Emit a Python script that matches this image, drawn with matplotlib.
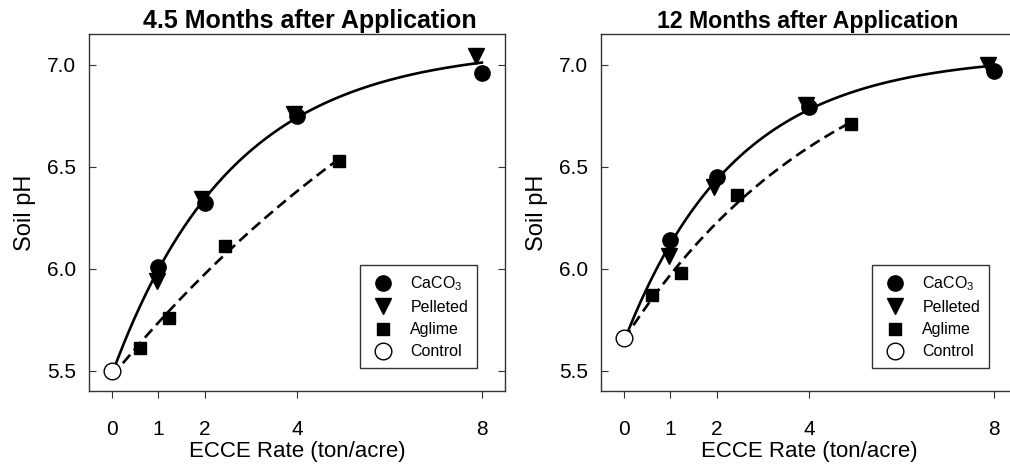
import numpy as np
import matplotlib
matplotlib.use("Agg")
import matplotlib.pyplot as plt

plt.rcParams['font.family'] = ['Liberation Sans', 'DejaVu Sans']
plt.rcParams['mathtext.fontset'] = 'custom'
plt.rcParams['mathtext.rm'] = 'Liberation Sans'
plt.rcParams['mathtext.it'] = 'Liberation Sans:italic'

# values (ECCE rate in ton/acre, soil pH)
titles = ["4.5 Months after Application", "12 Months after Application"]
xticks = [0, 1, 2, 4, 8]
yticks = [5.5, 6.0, 6.5, 7.0]

control_x = [0]
control_45 = [5.50]
control_12 = [5.66]

caco3_x = [1, 2, 4, 8]
caco3_45 = [6.01, 6.32, 6.75, 6.96]
caco3_12 = [6.14, 6.45, 6.79, 6.97]

pellet_x = [0.97, 1.95, 3.94, 7.88]
pellet_45 = [5.94, 6.34, 6.76, 7.04]
pellet_12 = [6.06, 6.40, 6.80, 7.00]

aglime_x = [0.61, 1.23, 2.45, 4.91]
aglime_45 = [5.61, 5.76, 6.11, 6.53]
aglime_12 = [5.87, 5.98, 6.36, 6.71]


def fit_rise(x, y):
    # y = y0 + a*(1 - exp(-b*x)), b by grid search, y0 and a by least squares
    x = np.asarray(x, float)
    y = np.asarray(y, float)
    best = None
    for b in np.arange(0.01, 2.0, 0.001):
        A = np.column_stack([np.ones_like(x), 1 - np.exp(-b * x)])
        coef = np.linalg.lstsq(A, y, rcond=None)[0]
        err = np.sum((A @ coef - y) ** 2)
        if best is None or err < best[0]:
            best = (err, coef[0], coef[1], b)
    return best[1:]


fig = plt.figure(figsize=(10.1, 4.65), dpi=100)
positions = [[0.0881, 0.1591, 0.4119, 0.7677], [0.5950, 0.1591, 0.4119, 0.7677]]
title_x = [0.531, 0.496]
title_size = [18, 16.7]
panels = [(control_45, caco3_45, pellet_45, aglime_45),
          (control_12, caco3_12, pellet_12, aglime_12)]

for i, (ctl, cac, pel, agl) in enumerate(panels):
    ax = fig.add_axes(positions[i])

    # fitted curves
    y0, a, b = fit_rise(control_x + caco3_x + pellet_x, ctl + cac + pel)
    xs = np.linspace(0, 8, 200)
    ax.plot(xs, y0 + a * (1 - np.exp(-b * xs)), color='black', lw=1.9, zorder=2)
    y0, a, b = fit_rise(control_x + aglime_x, ctl + agl)
    xs = np.linspace(0, max(aglime_x), 200)
    ax.plot(xs, y0 + a * (1 - np.exp(-b * xs)), color='black', lw=1.9,
            dashes=(4.2, 2.2), zorder=2)

    ax.plot(caco3_x, cac, 'o', color='black', ms=11, label='CaCO$_3$', zorder=4)
    ax.plot(pellet_x, pel, 'v', color='black', ms=11, label='Pelleted', zorder=3)
    ax.plot(aglime_x, agl, 's', color='black', ms=9, label='Aglime', zorder=3)
    ax.plot(control_x, ctl, 'o', mfc='white', mec='black', mew=1.0, ms=12,
            label='Control', zorder=5)

    ax.set_xlim(-0.5, 8.5)
    ax.set_ylim(5.4, 7.15)
    ax.set_xticks(xticks)
    ax.set_yticks(yticks)
    ax.set_yticklabels([f"{t:.1f}" for t in yticks])
    ax.tick_params(axis='y', direction='in', left=True, right=True, length=5,
                   labelsize=15, pad=9.4, color='#333333')
    ax.tick_params(axis='x', direction='out', length=5, labelsize=15, pad=16,
                   color='#333333')
    for s in ax.spines.values():
        s.set_color('#333333')
        s.set_linewidth(1.0)

    ax.set_xlabel("ECCE Rate (ton/acre)", fontsize=16, labelpad=1)
    ax.set_ylabel("Soil pH", fontsize=17, labelpad=8)
    ax.set_title(titles[i], fontsize=title_size[i], fontweight='bold',
                 x=title_x[i], pad=4)

    leg = ax.legend(loc='lower right', bbox_to_anchor=(0.933, 0.064),
                    borderaxespad=0, fontsize=11.5, frameon=True, fancybox=False,
                    edgecolor='black', handlelength=1.8, handletextpad=0.8,
                    labelspacing=0.45, borderpad=0.55, numpoints=1)
    leg.get_frame().set_linewidth(1.0)

fig.savefig("out.png", dpi=100)
